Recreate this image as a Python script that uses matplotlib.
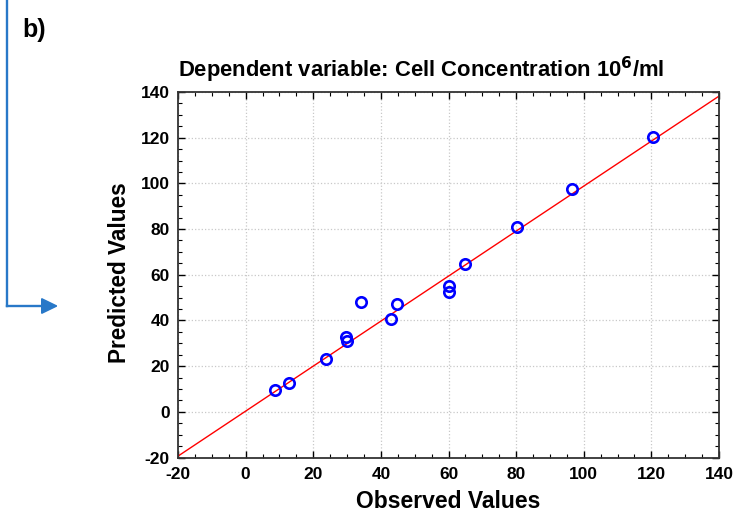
import numpy as np
import matplotlib.pyplot as plt
from matplotlib.patches import Polygon
from matplotlib.ticker import MultipleLocator

plt.rcParams['font.family'] = ['Liberation Sans', 'DejaVu Sans']
plt.rcParams['axes.unicode_minus'] = False

# observed vs predicted values
observed = [8.7, 12.9, 23.8, 29.7, 29.9, 34.0, 43.0, 44.9, 60.0, 60.0, 65.0, 80.4, 96.5, 120.4]
predicted = [9.5, 12.7, 23.0, 32.9, 31.1, 47.9, 40.5, 47.3, 55.0, 52.6, 64.7, 80.7, 97.5, 120.4]

# fitted line
line_x = [-20, 140]
slope, intercept = 0.985, 0.3

W, H = 736, 514
fig = plt.figure(figsize=(W / 100, H / 100), dpi=100)
ax = fig.add_axes([178 / W, 1 - 457.5 / H, (719 - 178) / W, (457.5 - 92) / H])

xl = np.array(line_x)
ax.plot(xl, slope * xl + intercept, color='red', lw=1.0, zorder=2)
ax.plot(observed, predicted, 'o', mfc='none', mec='blue', mew=1.9, ms=7.5, zorder=3)

ax.set_xlim(-20, 140)
ax.set_ylim(-20, 140)
ax.xaxis.set_major_locator(MultipleLocator(20))
ax.yaxis.set_major_locator(MultipleLocator(20))
ax.xaxis.set_minor_locator(MultipleLocator(5))
ax.yaxis.set_minor_locator(MultipleLocator(5))
ax.tick_params(which='both', direction='in', top=True, right=True, labelsize=12.5)
ax.tick_params(which='major', length=5, width=1)
ax.tick_params(which='minor', length=3, width=0.8)
ax.tick_params(axis='x', pad=7)
ax.tick_params(axis='y', pad=6)
for lab in ax.get_xticklabels() + ax.get_yticklabels():
    lab.set_fontweight('bold')
for s in ax.spines.values():
    s.set_linewidth(1.3)
    s.set_color('#333333')
ax.grid(True, which='major', color='#c8c8c8', ls=':', lw=0.9)
ax.set_axisbelow(True)

fig.text(448.5 / W, 1 - 501 / H, 'Observed Values', fontsize=16.5, fontweight='bold',
         ha='center', va='center')
fig.text(120 / W, 1 - 272.5 / H, 'Predicted Values', fontsize=16.3, fontweight='bold',
         ha='center', va='center', rotation=90)
fig.text(421 / W, 1 - 70 / H, 'Dependent variable: Cell Concentration 10$^{\\mathbf{6}}$/ml',
         ha='center', va='center', fontsize=15.8, fontweight='bold')

# panel label and arrow
fig.text(22 / W, 1 - 30 / H, 'b)', fontsize=18, fontweight='bold', ha='left', va='center')
arrow_color = '#2878c8'
ay = 1 - 306 / H
fig.add_artist(plt.Line2D([6.7 / W, 6.7 / W], [1.0, ay], color=arrow_color, lw=1.7,
                          transform=fig.transFigure))
fig.add_artist(plt.Line2D([6.7 / W, 42 / W], [ay, ay], color=arrow_color, lw=1.7,
                          transform=fig.transFigure))
fig.add_artist(Polygon([[41.7 / W, ay + 7.3 / H], [56.7 / W, ay], [41.7 / W, ay - 7.3 / H]],
                       closed=True, color=arrow_color, transform=fig.transFigure))

plt.savefig('out.png', dpi=100)
